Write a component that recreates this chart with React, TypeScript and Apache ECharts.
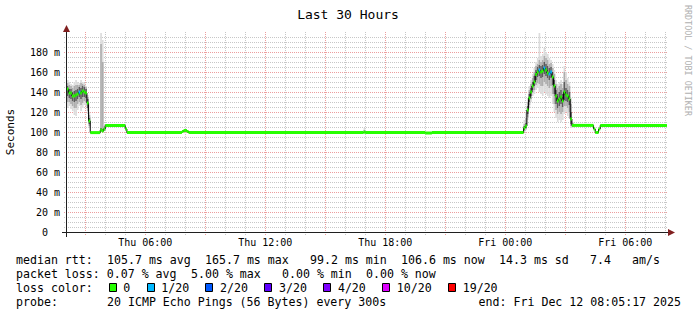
import React, { useEffect, useRef } from 'react';
import * as echarts from 'echarts';

const MONO = '"DejaVu Sans Mono", "Liberation Mono", monospace';

const TITLE = 'Last 30 Hours';
const Y_NAME = 'Seconds';
const WATERMARK = 'RRDTOOL / TOBI OETIKER';

// time axis in hours since Thu 00:00
const START_H = 2 + 5 / 60 + 17 / 3600; // Thu 02:05:17
const SPAN_H = 30;
const STEP_H = 5 / 60;
const xLabelHours = [6, 12, 18, 24, 30];
const Y_MAX = 200;
const Y_INTERVAL = 20;

// median rtt (ms), value held from each start time to the next
const runTimes = [
  'Thu 02:05', 'Thu 02:10', 'Thu 02:15', 'Thu 02:20', 'Thu 02:25', 'Thu 02:30', 'Thu 02:35', 'Thu 02:40',
  'Thu 02:45', 'Thu 02:50', 'Thu 02:55', 'Thu 03:00', 'Thu 03:05', 'Thu 03:10', 'Thu 03:15',
  'Thu 03:45', 'Thu 03:50', 'Thu 03:55', 'Thu 04:00', 'Thu 05:00', 'Thu 05:05',
  'Thu 07:50', 'Thu 07:55', 'Thu 08:05', 'Thu 08:10', 'Thu 16:55', 'Thu 17:00', 'Thu 20:00', 'Thu 20:20',
  'Fri 00:55', 'Fri 01:00', 'Fri 01:05', 'Fri 01:10', 'Fri 01:15', 'Fri 01:20', 'Fri 01:25', 'Fri 01:30',
  'Fri 01:35', 'Fri 01:40', 'Fri 01:45', 'Fri 01:50', 'Fri 01:55', 'Fri 02:00', 'Fri 02:05', 'Fri 02:10',
  'Fri 02:15', 'Fri 02:20', 'Fri 02:25', 'Fri 02:30', 'Fri 02:35', 'Fri 02:40', 'Fri 02:45', 'Fri 02:50',
  'Fri 02:55', 'Fri 03:00', 'Fri 03:05', 'Fri 03:10', 'Fri 03:15', 'Fri 03:20',
  'Fri 04:25', 'Fri 04:30', 'Fri 04:35', 'Fri 04:40', 'Fri 04:45',
];
const runValues = [
  143, 139, 139, 136, 136, 137, 138, 140,
  139, 141, 140, 139, 129, 111, 99.4,
  102, 101, 103, 106.5, 103, 99.4,
  100.5, 101.5, 100.5, 99.4, 99.8, 99.4, 99.0, 99.4,
  104, 106, 122, 134, 140, 146, 150, 157.5,
  160, 162, 160, 161, 164, 162, 159, 158,
  160, 155, 146, 136, 131, 133, 135, 131,
  140, 137, 136, 133, 113, 106.6,
  103, 99.5, 99.5, 103, 106.6,
];
const END_TIME = 'Fri 08:05';

// steps with packet loss (index into loss colours)
const lossTimes = ['Thu 02:40', 'Fri 01:40', 'Fri 01:55', 'Fri 02:10', 'Fri 02:15'];
const lossLevels = [1, 1, 1, 1, 1];

const lossLabels = ['0', '1/20', '2/20', '3/20', '4/20', '10/20', '19/20'];
const lossColors = ['#26ff00', '#00b8ff', '#0059ff', '#5e00ff', '#7e00ff', '#dd00ff', '#ff0000'];

// smoke: [min, p10, p25, p75, p90, max] per 5-minute step
const smokeTimes = [
  'Thu 02:05', 'Thu 02:10', 'Thu 02:15', 'Thu 02:20', 'Thu 02:25', 'Thu 02:30', 'Thu 02:35', 'Thu 02:40',
  'Thu 02:45', 'Thu 02:50', 'Thu 02:55', 'Thu 03:00', 'Thu 03:05', 'Thu 03:10',
  'Thu 03:45', 'Thu 03:50', 'Thu 03:55', 'Thu 16:55',
  'Fri 00:55', 'Fri 01:00', 'Fri 01:05', 'Fri 01:10', 'Fri 01:15', 'Fri 01:20', 'Fri 01:25', 'Fri 01:30',
  'Fri 01:35', 'Fri 01:40', 'Fri 01:45', 'Fri 01:50', 'Fri 01:55', 'Fri 02:00', 'Fri 02:05', 'Fri 02:10',
  'Fri 02:15', 'Fri 02:20', 'Fri 02:25', 'Fri 02:30', 'Fri 02:35', 'Fri 02:40', 'Fri 02:45', 'Fri 02:50',
  'Fri 02:55', 'Fri 03:00', 'Fri 03:05', 'Fri 03:10', 'Fri 03:15', 'Fri 03:20',
];
const smokeLevels = [
  [124, 130, 136, 146, 149, 152], [126, 130, 134, 143, 147, 150], [123, 128, 133, 143, 146, 148],
  [121, 126, 131, 140, 144, 147], [117, 124, 130, 141, 146, 150], [116, 124, 131, 142, 147, 152],
  [122, 128, 133, 143, 147, 150], [126, 130, 135, 145, 147, 149], [121, 127, 133, 144, 149, 152],
  [124, 129, 135, 146, 148, 150], [127, 131, 135, 145, 147, 149], [126, 130, 134, 143, 145, 146],
  [118, 121, 124, 133, 135, 137], [104, 106, 108, 114, 117, 120],
  [100, 100, 101, 104, 188, 199], [100, 100, 100.5, 103, 170, 192], [101, 101, 102, 104, 106, 108],
  [99.5, 99.5, 99.6, 100.2, 102, 104],
  [100, 101, 102, 106, 108, 112], [102, 103, 104, 109, 114, 120], [112, 115, 118, 126, 130, 134],
  [124, 127, 130, 138, 142, 146], [130, 133, 136, 144, 148, 152], [136, 139, 142, 150, 154, 158],
  [138, 142, 146, 156, 160, 164], [142, 147, 152, 162, 166, 170], [144, 149, 155, 165, 168, 174],
  [140, 148, 156, 167, 172, 199], [138, 146, 154, 166, 170, 176], [136, 146, 155, 167, 172, 178],
  [140, 150, 158, 170, 176, 184], [138, 148, 156, 168, 174, 180], [136, 146, 154, 166, 172, 178],
  [134, 144, 152, 164, 168, 174], [136, 146, 154, 165, 169, 172], [128, 138, 147, 160, 164, 168],
  [120, 128, 138, 152, 158, 162], [114, 122, 128, 142, 148, 152], [110, 118, 124, 138, 144, 148],
  [112, 120, 126, 140, 146, 150], [110, 118, 128, 142, 148, 152], [112, 120, 125, 138, 144, 148],
  [118, 126, 132, 150, 160, 166], [120, 126, 131, 144, 152, 160], [116, 124, 130, 142, 148, 154],
  [114, 120, 127, 140, 146, 150], [104, 106, 108, 120, 128, 134], [104, 105, 105.5, 108, 109, 110],
];

const statRows = [
  'median rtt:  105.7 ms avg  165.7 ms max   99.2 ms min  106.6 ms now  14.3 ms sd   7.4   am/s',
  'packet loss: 0.07 % avg  5.00 % max   0.00 % min  0.00 % now',
];
const lossRowLabel = 'loss color:';
const probeRow = 'probe:       20 ICMP Echo Pings (56 Bytes) every 300s';
const endText = 'end: Fri Dec 12 08:05:17 2025';

function parseT(s: string): number {
  const [d, hm] = s.split(' ');
  const [h, m] = hm.split(':').map(Number);
  return (d === 'Fri' ? 24 : 0) + h + m / 60;
}

function pad2(n: number) {
  return (n < 10 ? '0' : '') + n;
}

export default function App() {
  const ref = useRef<HTMLDivElement>(null);

  useEffect(() => {
    document.body.style.margin = '0';
    const el = ref.current!;
    const chart = echarts.init(el, null, { renderer: 'svg' });

    const GL = 67, GT = 32, GW = 600, GH = 200;
    const CW = 7.0; // legend char width
    const LX = 16;
    const FS = 11.6;

    const X_MIN = START_H;
    const X_MAX = START_H + SPAN_H;

    // grid lines (vertical: each hour, horizontal: each 5 ms)
    const gridData: number[][] = [];
    for (let h = Math.ceil(X_MIN); h <= X_MAX; h++) gridData.push([h, 0, 0, h % 3 === 0 ? 1 : 0]);
    for (let v = 5; v < Y_MAX; v += 5) gridData.push([X_MIN, v, 1, v % Y_INTERVAL === 0 ? 1 : 0]);

    const runStartsH = runTimes.map(parseT);
    const endH = parseT(END_TIME);
    const lossMap: Record<string, number> = {};
    lossTimes.forEach((t, i) => (lossMap[t] = lossLevels[i]));
    const bandData = runTimes.map((t, i) => [
      runStartsH[i],
      runValues[i],
      i + 1 < runTimes.length ? runStartsH[i + 1] : endH,
      lossMap[t] ?? 0,
    ]);
    const lineData = runTimes.map((t, i) => [runStartsH[i], runValues[i]]);
    lineData.push([endH, runValues[runValues.length - 1]]);

    const smokeData = smokeTimes.map((t, i) => [parseT(t), ...smokeLevels[i]]);

    const graphics: any[] = [];
    const textStyle = (extra: any) => ({ fontFamily: MONO, fill: '#000', ...extra });

    graphics.push({
      type: 'text', x: 348, y: 14,
      style: textStyle({ text: TITLE, fontSize: 13, align: 'center', verticalAlign: 'middle' }),
    });
    graphics.push({
      type: 'text', x: 10.5, y: 132, rotation: Math.PI / 2,
      style: textStyle({ text: Y_NAME, fontSize: 11, align: 'center', verticalAlign: 'middle' }),
    });
    graphics.push({
      type: 'text', x: 688, y: 5, rotation: -Math.PI / 2,
      style: textStyle({ text: WATERMARK, fontSize: 8.4, fill: '#b0b0b0', align: 'left', verticalAlign: 'middle' }),
    });

    const rowY = [259.5, 273.5, 287.5, 301.5];
    const pushRow = (row: string, y: number) => {
      const re = /\S+(?: \S+)*/g;
      let m: RegExpExecArray | null;
      while ((m = re.exec(row))) {
        graphics.push({
          type: 'text', x: LX + m.index * CW, y,
          style: textStyle({ text: m[0], fontSize: FS, align: 'left', verticalAlign: 'middle' }),
        });
      }
    };
    pushRow(statRows[0], rowY[0]);
    pushRow(statRows[1], rowY[1]);
    pushRow(lossRowLabel, rowY[2]);
    let lx = 108.6;
    lossLabels.forEach((lab, i) => {
      graphics.push({
        type: 'rect', shape: { x: Math.round(lx) + 0.5, y: rowY[2] - 4, width: 7, height: 8 },
        style: { fill: lossColors[i], stroke: '#000', lineWidth: 1 },
      });
      const tx = lx + 14.7;
      graphics.push({
        type: 'text', x: tx, y: rowY[2],
        style: textStyle({ text: lab, fontSize: FS, align: 'left', verticalAlign: 'middle' }),
      });
      lx = tx + lab.length * CW + 16.2;
    });
    pushRow(probeRow, rowY[3]);
    graphics.push({
      type: 'text', x: 681, y: rowY[3],
      style: textStyle({ text: endText, fontSize: FS, align: 'right', verticalAlign: 'middle' }),
    });

    // axes with arrows
    const axisY = GT + GH + 0.5;
    const axisX = GL - 0.5;
    graphics.push({ type: 'line', z: 100, shape: { x1: GL - 5, y1: axisY, x2: GL + GW + 1, y2: axisY }, style: { stroke: '#1f1f1f', lineWidth: 1 } });
    graphics.push({ type: 'polygon', z: 100, shape: { points: [[GL + GW + 1, axisY - 3.5], [GL + GW + 8, axisY], [GL + GW + 1, axisY + 3.5]] }, style: { fill: '#801f1f' } });
    graphics.push({ type: 'line', z: 100, shape: { x1: axisX, y1: GT + GH + 5, x2: axisX, y2: GT }, style: { stroke: '#1f1f1f', lineWidth: 1 } });
    graphics.push({ type: 'polygon', z: 100, shape: { points: [[axisX - 3.5, GT], [axisX, GT - 7], [axisX + 3.5, GT]] }, style: { fill: '#801f1f' } });

    const option: any = {
      animation: false,
      backgroundColor: '#ffffff',
      grid: { left: GL, top: GT, width: GW, height: GH, containLabel: false, outerBoundsMode: 'none' },
      xAxis: {
        type: 'value', min: X_MIN, max: X_MAX,
        axisLine: { show: false }, axisTick: { show: false }, splitLine: { show: false },
        axisLabel: {
          customValues: xLabelHours,
          margin: 5,
          fontFamily: MONO, fontSize: 10, color: '#000',
          formatter: (v: number) => `${v < 24 ? 'Thu' : 'Fri'} ${pad2(Math.round(v) % 24)}:00`,
        },
      },
      yAxis: {
        type: 'value', min: 0, max: Y_MAX, interval: Y_INTERVAL,
        axisLine: { show: false }, axisTick: { show: false }, splitLine: { show: false },
        axisLabel: {
          margin: 7, fontFamily: MONO, fontSize: 10, color: '#000',
          formatter: (v: number) => (v >= Y_MAX ? '' : v === 0 ? '{z|0}' : `${v} m`),
          rich: { z: { fontFamily: MONO, fontSize: 10, color: '#000', padding: [0, 12, 0, 0] } },
        },
      },
      graphic: graphics,
      series: [
        {
          type: 'custom', name: 'grid', z: 1, silent: true, clip: false,
          encode: { x: 0, y: 1 },
          data: gridData,
          renderItem: (params: any, api: any) => {
            const kind = api.value(2);
            const major = api.value(3);
            const stroke = major ? 'rgba(222,79,79,0.55)' : 'rgba(143,143,143,0.5)';
            if (kind === 0) {
              const p = api.coord([api.value(0), 0]);
              const x = Math.round(p[0]) + 0.5;
              return { type: 'line', shape: { x1: x, y1: GT + GH + 3, x2: x, y2: GT }, style: { stroke, lineWidth: 1, lineDash: [1, 1] } };
            }
            const p = api.coord([X_MIN, api.value(1)]);
            const y = Math.round(p[1]) + 0.5;
            return { type: 'line', shape: { x1: GL - 3, y1: y, x2: GL + GW, y2: y }, style: { stroke, lineWidth: 1, lineDash: [1, 1] } };
          },
        },
        {
          type: 'custom', name: 'smoke', z: 2, silent: true, clip: true,
          encode: { x: 0, y: [1, 6] },
          data: smokeData,
          renderItem: (params: any, api: any) => {
            const t = api.value(0);
            const band = (lo: number, hi: number, fill: string) => {
              const a = api.coord([t, hi]);
              const b = api.coord([t + STEP_H, lo]);
              return { type: 'rect', shape: { x: a[0], y: a[1], width: b[0] - a[0], height: Math.max(b[1] - a[1], 0.5) }, style: { fill } };
            };
            return {
              type: 'group',
              children: [
                band(api.value(1), api.value(6), '#dcdcdc'),
                band(api.value(2), api.value(5), '#adadad'),
                band(api.value(3), api.value(4), '#5c5c5c'),
              ],
            };
          },
        },
        {
          type: 'line', name: 'median', z: 3, step: 'end', showSymbol: false, silent: true,
          data: lineData,
          lineStyle: { color: '#000', width: 1 },
        },
        {
          type: 'custom', name: 'loss', z: 4, silent: true, clip: true,
          encode: { x: [0, 2], y: 1 },
          data: bandData,
          renderItem: (params: any, api: any) => {
            const v = api.value(1);
            const s = api.coord([api.value(0), v]);
            const e = api.coord([api.value(2), v]);
            return {
              type: 'rect',
              shape: { x: s[0], y: s[1] - 1.5, width: e[0] - s[0], height: 3 },
              style: { fill: lossColors[api.value(3)] },
            };
          },
        },
      ],
    };

    chart.setOption(option);
    return () => chart.dispose();
  }, []);

  return <div ref={ref} style={{ width: 697, height: 315 }} />;
}
